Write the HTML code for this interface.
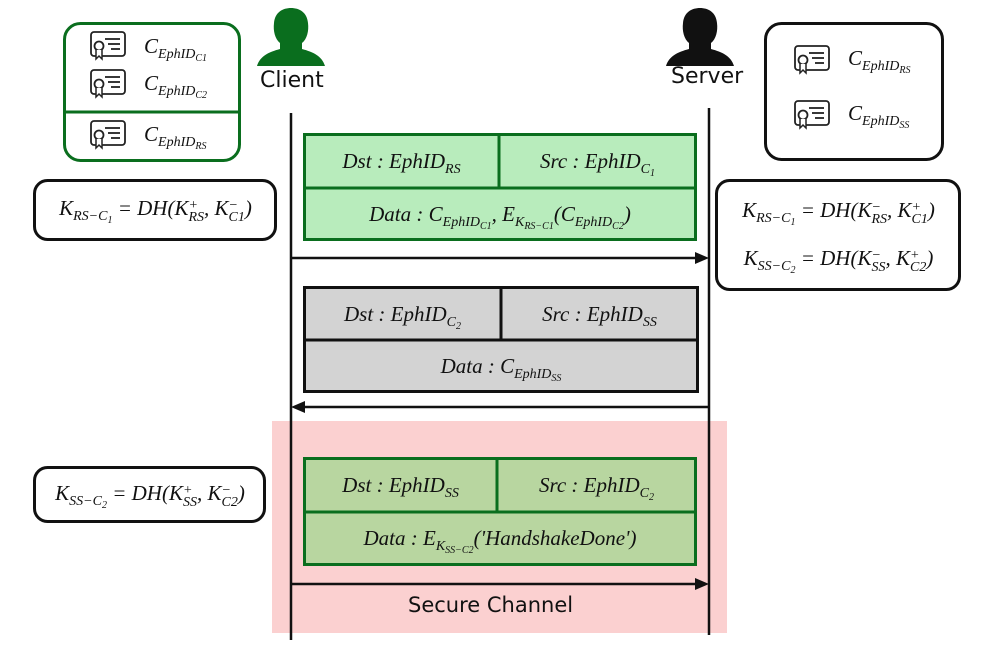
<!DOCTYPE html>
<html><head><meta charset="utf-8"><style>
body{margin:0;width:981px;height:645px;background:#fff;position:relative;overflow:hidden;font-family:"Liberation Serif",serif}
.t{position:absolute;display:flex;align-items:center;justify-content:center;font-style:italic;font-size:21px;white-space:nowrap;color:#111}
.t>span{display:block}
.s{font-size:14px;position:relative;top:5px}
.ss{font-size:10px;position:relative;top:3px}
.ps{display:inline-block;vertical-align:-6px;line-height:12px;font-size:14px}
.ps b{display:block;font-weight:normal}
.lab{position:absolute;font-family:"DejaVu Sans","Liberation Sans",sans-serif;font-size:22px;color:#111}
</style></head><body>
<svg width="981" height="645" style="position:absolute;left:0;top:0">
<defs>
<g id="cert"><rect x="0" y="0" width="34" height="24" rx="3" fill="none" stroke="#222" stroke-width="1.8"/><line x1="14" y1="7" x2="29" y2="7" stroke="#222" stroke-width="1.8"/><line x1="17" y1="12" x2="29" y2="12" stroke="#222" stroke-width="1.8"/><line x1="20" y1="17" x2="29" y2="17" stroke="#222" stroke-width="1.8"/><circle cx="8" cy="14" r="4.5" fill="#fff" stroke="#222" stroke-width="1.8"/><path d="M5 18 L5 27 L8 24 L11 27 L11 18" fill="#fff" stroke="#222" stroke-width="1.5"/></g>
<path id="person" d="M-34 57 C-31 47 -22 43 -11 40 L-11 34 C-16 30 -18 22 -17 14 C-16 3 -8 -1 0 -1 C8 -1 16 3 17 14 C18 22 16 30 11 34 L11 40 C22 43 31 47 34 57 Z"/>
</defs>
<rect x="272" y="421" width="455" height="212" fill="#fbd0d0"/>
<rect x="64.5" y="23.5" width="175" height="137" rx="16" fill="#fff" stroke="#0a6e1e" stroke-width="3"/>
<line x1="64" y1="112" x2="240" y2="112" stroke="#0a6e1e" stroke-width="3"/>
<use href="#cert" x="91" y="32"/><use href="#cert" x="91" y="70"/><use href="#cert" x="91" y="121"/>
<rect x="765.5" y="23.5" width="177" height="136" rx="16" fill="#fff" stroke="#111" stroke-width="3"/>
<use href="#cert" x="795" y="46"/><use href="#cert" x="795" y="101"/>
<use href="#person" x="291" y="9" fill="#0a6e1e"/>
<use href="#person" x="700" y="9" fill="#111"/>
<line x1="291" y1="113" x2="291" y2="640" stroke="#111" stroke-width="2.5"/>
<line x1="709" y1="108" x2="709" y2="635" stroke="#111" stroke-width="2.5"/>
<rect x="34.5" y="180.5" width="241" height="59" rx="13" fill="#fff" stroke="#111" stroke-width="3"/>
<rect x="716.5" y="180.5" width="243" height="109" rx="13" fill="#fff" stroke="#111" stroke-width="3"/>
<rect x="34.5" y="467.5" width="230" height="54" rx="13" fill="#fff" stroke="#111" stroke-width="3"/>
<rect x="304.5" y="134.5" width="391" height="105" fill="#b8ecbc" stroke="#0a6e1e" stroke-width="3"/>
<line x1="304" y1="188" x2="696" y2="188" stroke="#0a6e1e" stroke-width="3"/>
<line x1="499" y1="134" x2="499" y2="188" stroke="#0a6e1e" stroke-width="3"/>
<rect x="304.5" y="287.5" width="393" height="104" fill="#d3d3d3" stroke="#111" stroke-width="3"/>
<line x1="304" y1="340" x2="698" y2="340" stroke="#111" stroke-width="3"/>
<line x1="501" y1="287" x2="501" y2="340" stroke="#111" stroke-width="3"/>
<rect x="304.5" y="458.5" width="391" height="106" fill="#b8d6a0" stroke="#0a6e1e" stroke-width="3"/>
<line x1="304" y1="512" x2="696" y2="512" stroke="#0a6e1e" stroke-width="3"/>
<line x1="497" y1="458" x2="497" y2="512" stroke="#0a6e1e" stroke-width="3"/>
<line x1="291" y1="258" x2="697" y2="258" stroke="#111" stroke-width="2.5"/><path d="M709 258 L695 252 L695 264Z" fill="#111"/>
<line x1="303" y1="407" x2="709" y2="407" stroke="#111" stroke-width="2.5"/><path d="M291 407 L305 401 L305 413Z" fill="#111"/>
<line x1="291" y1="584" x2="697" y2="584" stroke="#111" stroke-width="2.5"/><path d="M709 584 L695 578 L695 590Z" fill="#111"/>
</svg>
<div class="lab" style="left:260px;top:68px">Client</div>
<div class="lab" style="left:671px;top:64px">Server</div>
<div class="lab" style="left:408px;top:593px;font-size:21px">Secure Channel</div>

<div class="t" style="left:144px;top:32px;height:28px"><span>C<span class="s">EphID<span class="ss">C1</span></span></span></div>
<div class="t" style="left:144px;top:69px;height:28px"><span>C<span class="s">EphID<span class="ss">C2</span></span></span></div>
<div class="t" style="left:144px;top:120px;height:28px"><span>C<span class="s">EphID<span class="ss">RS</span></span></span></div>
<div class="t" style="left:848px;top:44px;height:28px"><span>C<span class="s">EphID<span class="ss">RS</span></span></span></div>
<div class="t" style="left:848px;top:99px;height:28px"><span>C<span class="s">EphID<span class="ss">SS</span></span></span></div>

<div class="t" style="left:34px;top:181px;width:243px;height:58px"><span>K<span class="s">RS−C<span class="ss">1</span></span> = DH(K<span class="ps"><b>+</b><b>RS</b></span>, K<span class="ps"><b>−</b><b>C1</b></span>)</span></div>
<div class="t" style="left:716px;top:190px;width:245px;height:44px"><span>K<span class="s">RS−C<span class="ss">1</span></span> = DH(K<span class="ps"><b>−</b><b>RS</b></span>, K<span class="ps"><b>+</b><b>C1</b></span>)</span></div>
<div class="t" style="left:716px;top:238px;width:245px;height:44px"><span>K<span class="s">SS−C<span class="ss">2</span></span> = DH(K<span class="ps"><b>−</b><b>SS</b></span>, K<span class="ps"><b>+</b><b>C2</b></span>)</span></div>
<div class="t" style="left:34px;top:468px;width:232px;height:53px"><span>K<span class="s">SS−C<span class="ss">2</span></span> = DH(K<span class="ps"><b>+</b><b>SS</b></span>, K<span class="ps"><b>−</b><b>C2</b></span>)</span></div>

<div class="t" style="left:304px;top:135px;width:195px;height:53px"><span>Dst : EphID<span class="s">RS</span></span></div>
<div class="t" style="left:499px;top:135px;width:197px;height:53px"><span>Src : EphID<span class="s">C<span class="ss">1</span></span></span></div>
<div class="t" style="left:304px;top:188px;width:392px;height:52px"><span>Data : C<span class="s">EphID<span class="ss">C1</span></span>, E<span class="s">K<span class="ss">RS−C1</span></span>(C<span class="s">EphID<span class="ss">C2</span></span>)</span></div>

<div class="t" style="left:304px;top:288px;width:197px;height:52px"><span>Dst : EphID<span class="s">C<span class="ss">2</span></span></span></div>
<div class="t" style="left:501px;top:288px;width:197px;height:52px"><span>Src : EphID<span class="s">SS</span></span></div>
<div class="t" style="left:304px;top:340px;width:394px;height:52px"><span>Data : C<span class="s">EphID<span class="ss">SS</span></span></span></div>

<div class="t" style="left:304px;top:459px;width:193px;height:53px"><span>Dst : EphID<span class="s">SS</span></span></div>
<div class="t" style="left:497px;top:459px;width:199px;height:53px"><span>Src : EphID<span class="s">C<span class="ss">2</span></span></span></div>
<div class="t" style="left:304px;top:512px;width:392px;height:52px"><span>Data : E<span class="s">K<span class="ss">SS−C2</span></span>('HandshakeDone')</span></div>
</body></html>
